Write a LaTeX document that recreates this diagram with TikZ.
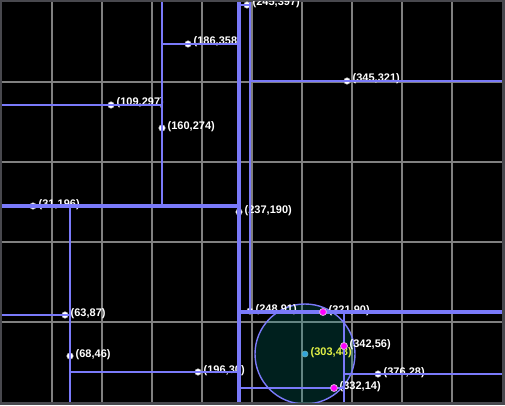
\documentclass[tikz,border=0pt]{standalone}
\usepackage{fontspec}
\setmainfont{Liberation Sans}
\definecolor{framec}{RGB}{72,72,78}
\definecolor{gridc}{RGB}{128,128,128}
\definecolor{splitc}{RGB}{122,122,250}
\definecolor{qfill}{RGB}{0,150,140}
\definecolor{qlabel}{RGB}{225,240,70}
\definecolor{qpt}{RGB}{50,165,220}
\definecolor{hitc}{RGB}{255,0,255}
\begin{document}
\begin{tikzpicture}[x=1pt,y=1pt,
  lbl/.style={anchor=base west, inner sep=0pt, xshift=5.5pt, yshift=-1pt, text=white,
              font=\fontsize{11}{13}\selectfont\bfseries},
  qlbl/.style={lbl, text=qlabel},
  pt/.style={circle, fill=white, draw=gray!60, line width=0.5pt, minimum size=6.5pt, inner sep=0pt},
  qptstyle/.style={circle, fill=qpt, draw=teal!60, line width=0.6pt, minimum size=6pt, inner sep=0pt},
  hit/.style={circle, fill=hitc, draw=violet!30, line width=0.8pt, minimum size=7pt, inner sep=0pt},
  gridline/.style={gridc, line width=1.5pt},
  dzero/.style={splitc, line width=4.5pt},
  done/.style={splitc, line width=3.5pt},
  dtwo/.style={splitc, line width=2.7pt},
  dthree/.style={splitc, line width=2pt}]
\useasboundingbox (0,0) rectangle (505,405);
\fill[framec] (0,0) rectangle (505,405);
\begin{scope}[shift={(2,3)}]
  \fill[black] (0,0) rectangle (500,400);
  \clip (0,0) rectangle (500,400);
  % grid
  \foreach \gx in {50,100,...,450} \draw[gridline] (\gx,0) -- (\gx,400);
  \foreach \gy in {80,160,240,320} \draw[gridline] (0,\gy) -- (500,\gy);
  % query circle
  \draw[splitc, line width=1.4pt, fill=qfill, fill opacity=0.22] (303,48) circle (50);
  % labels
  \node[lbl] (l1) at (237,190) {(237,190)};
  \node[lbl] (l2) at (31,196) {(31,196)};
  \node[lbl] (l3) at (321,90) {(321,90)};
  \node[lbl] (l4) at (160,274) {(160,274)};
  \node[lbl] (l5) at (68,46) {(68,46)};
  \node[lbl] (l6) at (248,91) {(248,91)};
  \node[lbl] (l7) at (342,56) {(342,56)};
  \node[lbl] (l8) at (109,297) {(109,297)};
  \node[lbl] (l9) at (186,358) {(186,358)};
  \node[lbl] (l10) at (63,87) {(63,87)};
  \node[lbl] (l11) at (196,30) {(196,30)};
  \node[lbl] (l12) at (245,397) {(245,397)};
  \node[lbl] (l13) at (345,321) {(345,321)};
  \node[lbl] (l14) at (332,14) {(332,14)};
  \node[lbl] (l15) at (376,28) {(376,28)};
  \node[qlbl] (lq) at (303,48) {(303,48)};
  % white points
  \node[pt] (p1) at (237,190) {};
  \node[pt] (p2) at (31,196) {};
  \node[pt] (p4) at (160,274) {};
  \node[pt] (p5) at (68,46) {};
  \node[pt] (p6) at (248,91) {};
  \node[pt] (p8) at (109,297) {};
  \node[pt] (p9) at (186,358) {};
  \node[pt] (p10) at (63,87) {};
  \node[pt] (p11) at (196,30) {};
  \node[pt] (p12) at (245,397) {};
  \node[pt] (p13) at (345,321) {};
  \node[pt] (p15) at (376,28) {};
  \node[qptstyle] (q) at (303,48) {};
  % split lines
  \draw[dzero] (237,0) -- (237,400);
  \draw[done] (0,196) -- (237,196);
  \draw[done] (237,90) -- (500,90);
  \draw[dtwo] (160,196) -- (160,400);
  \draw[dtwo] (68,0) -- (68,196);
  \draw[dtwo] (248,90) -- (248,400);
  \draw[dtwo] (342,0) -- (342,90);
  \draw[dthree] (0,297) -- (160,297);
  \draw[dthree] (160,358) -- (237,358);
  \draw[dthree] (0,87) -- (68,87);
  \draw[dthree] (68,30) -- (237,30);
  \draw[dthree] (237,397) -- (248,397);
  \draw[dthree] (248,321) -- (500,321);
  \draw[dthree] (237,14) -- (342,14);
  \draw[dthree] (342,28) -- (500,28);
  % points found in the query circle
  \node[hit] (p3) at (321,90) {};
  \node[hit] (p7) at (342,56) {};
  \node[hit] (p14) at (332,14) {};
\end{scope}
\end{tikzpicture}
\end{document}
